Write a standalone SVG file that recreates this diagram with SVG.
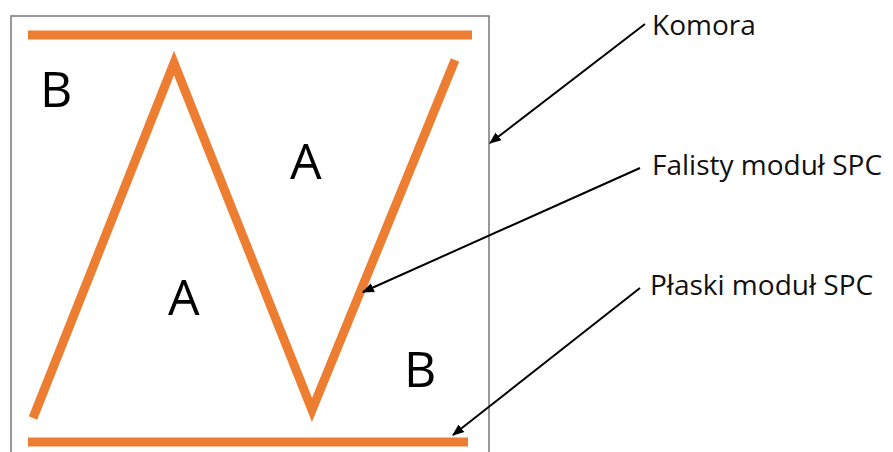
<svg xmlns="http://www.w3.org/2000/svg" width="893" height="452" viewBox="0 0 893 452">
<style>
.or{stroke:#ED7D31;stroke-width:9;fill:none;stroke-linejoin:miter}
.big{font-family:"Open Sans","Liberation Sans",sans-serif;font-size:50px;fill:#000}
.lbl{font-family:"Open Sans","Liberation Sans",sans-serif;font-size:28px;fill:#111}
.ar{stroke:#000;stroke-width:2;fill:none;marker-end:url(#ah)}
</style>
<defs>
<marker id="ah" viewBox="0 0 10 10" refX="9" refY="5" markerWidth="6" markerHeight="6" orient="auto" markerUnits="strokeWidth">
<path d="M0,1 L10,5 L0,9 z" fill="#000"/>
</marker>
</defs>
<rect width="893" height="452" fill="#fff"/>
<g id="komora">
<rect x="11" y="16" width="478" height="460" fill="none" stroke="#777" stroke-width="1.5"/>
</g>
<g id="plaski">
<line class="or" x1="28" y1="35" x2="472" y2="35"/>
<line class="or" x1="28" y1="442" x2="468" y2="442"/>
</g>
<g id="falisty">
<polyline class="or" points="33,418 174,63 312,410 455,60"/>
</g>
<g id="regions">
<text class="big" x="40" y="107">B</text>
<text class="big" x="290" y="179">A</text>
<text class="big" x="168" y="315">A</text>
<text class="big" x="404" y="387">B</text>
</g>
<g id="labels">
<text class="lbl" x="652" y="35">Komora</text>
<text class="lbl" x="652" y="175">Falisty moduł SPC</text>
<text class="lbl" x="650" y="295">Płaski moduł SPC</text>
</g>
<g id="connectors">
<line class="ar" x1="645" y1="24" x2="490" y2="143"/>
<line class="ar" x1="640" y1="168" x2="363" y2="292"/>
<line class="ar" x1="640" y1="288" x2="453" y2="435"/>
</g>
</svg>
